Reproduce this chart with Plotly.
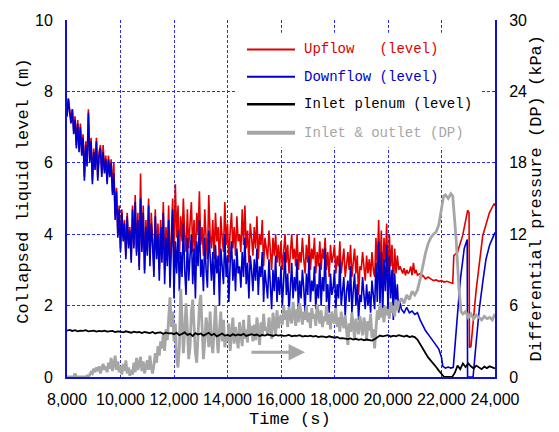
import plotly.graph_objects as go

# ---------------- data ----------------
# noisy part sampled every 50 s from 8000 s to 20450 s
t_noisy = list(range(8000, 20500, 50))

upflow_noisy = [
    7.3, 7.8, 7.5, 7.2, 7.5, 6.9, 7.3, 6.5, 7.2, 6.4,
    7.1, 6.3, 6.8, 5.6, 6.6, 6.0, 7.5, 6.1, 6.7, 5.5,
    6.4, 5.9, 6.7, 5.6, 6.3, 6.5, 5.7, 6.5, 5.8, 6.2,
    5.5, 6.2, 5.7, 6.1, 5.2, 6.0, 4.5, 5.3, 4.0, 4.8,
    3.6, 4.7, 3.9, 4.4, 3.4, 4.6, 3.7, 4.2, 3.3, 4.8,
    3.7, 5.1, 3.5, 4.6, 3.1, 5.7, 3.6, 4.8, 3.0, 4.4,
    3.5, 5.0, 3.3, 4.6, 3.9, 3.0, 4.7, 3.5, 4.3, 3.0,
    4.4, 3.5, 4.9, 3.0, 4.2, 3.4, 4.8, 3.0, 4.0, 5.0,
    3.4, 5.4, 3.9, 4.8, 3.3, 4.5, 3.8, 5.0, 4.0, 3.5,
    4.7, 3.6, 4.3, 4.9, 3.5, 4.4, 3.2, 4.6, 4.0, 5.2,
    3.7, 4.2, 3.4, 4.7, 3.9, 3.3, 5.1, 4.0, 3.6, 4.4,
    3.3, 4.6, 3.8, 4.2, 3.1, 4.5, 3.9, 3.5, 4.9, 3.7,
    4.3, 3.2, 4.1, 4.6, 3.6, 4.2, 3.4, 4.5, 3.8, 4.0,
    3.5, 4.7, 3.7, 4.8, 3.6, 4.1, 3.2, 4.3, 3.9, 3.4,
    4.2, 3.6, 4.5, 3.3, 4.0, 3.7, 4.4, 3.1, 3.9, 3.5,
    3.3, 4.1, 3.6, 3.0, 3.9, 3.4, 4.0, 3.2, 3.7, 3.1,
    3.8, 3.0, 3.5, 4.0, 3.2, 3.7, 2.9, 3.6, 4.0, 3.3,
    3.6, 3.1, 4.0, 3.0, 3.5, 3.2, 3.9, 3.3, 2.9, 3.7,
    3.2, 4.0, 3.0, 3.6, 3.3, 3.9, 2.9, 3.5, 3.1, 3.8,
    3.0, 3.6, 3.3, 3.9, 3.0, 3.5, 2.8, 3.7, 3.2, 3.4,
    3.7, 2.9, 3.4, 3.1, 3.8, 2.9, 3.3, 3.6, 2.8, 3.2,
    3.5, 3.0, 3.7, 2.8, 3.3, 3.6, 2.9, 3.4, 2.3, 3.1,
    3.0, 3.5, 3.1, 2.7, 3.4, 2.9, 3.3, 2.8, 3.5, 3.0,
    2.8, 3.9, 3.0, 4.4, 2.9, 4.1, 2.6, 3.9, 3.2, 4.3,
    2.6, 4.0, 3.1, 3.7, 2.4, 3.6, 2.9, 3.4, 3.0, 3.1,
]
downflow_noisy = [
    7.3, 7.8, 7.4, 7.1, 7.5, 6.8, 7.2, 6.4, 7.1, 6.3,
    7.0, 6.2, 6.7, 5.5, 6.5, 5.9, 7.4, 6.0, 6.6, 5.4,
    6.3, 5.8, 6.6, 5.5, 6.2, 6.4, 5.6, 6.3, 5.7, 6.1,
    5.4, 6.1, 5.6, 6.0, 5.1, 5.7, 4.4, 5.2, 3.9, 4.7,
    3.5, 4.6, 3.8, 4.3, 3.3, 4.5, 3.6, 4.1, 3.2, 4.7,
    3.6, 4.9, 3.4, 4.4, 3.0, 5.0, 3.5, 4.6, 2.9, 4.2,
    3.4, 4.8, 3.1, 4.3, 3.7, 2.8, 4.5, 3.3, 4.0, 2.7,
    4.2, 3.2, 4.6, 2.6, 3.9, 3.1, 4.4, 2.5, 3.6, 4.7,
    2.2, 3.8, 2.9, 4.1, 2.4, 3.5, 2.8, 4.3, 3.0, 2.3,
    3.9, 2.7, 3.4, 4.0, 2.6, 3.6, 2.2, 3.8, 3.1, 4.4,
    2.8, 3.3, 2.4, 3.9, 3.0, 2.5, 4.1, 3.2, 2.7, 3.5,
    2.3, 3.7, 2.9, 3.4, 2.0, 3.6, 3.0, 2.6, 4.0, 2.8,
    3.4, 2.1, 3.2, 3.8, 2.7, 3.3, 2.4, 3.6, 2.9, 3.1,
    2.5, 3.5, 2.8, 3.9, 2.6, 3.2, 2.2, 3.4, 3.0, 2.4,
    3.3, 2.7, 3.6, 2.3, 3.1, 2.8, 3.5, 2.1, 3.0, 2.6,
    2.2, 3.3, 2.6, 1.9, 3.0, 2.4, 3.4, 2.1, 2.8, 2.3,
    3.1, 2.0, 2.7, 3.5, 2.3, 2.9, 1.8, 2.6, 3.2, 2.2,
    2.8, 2.4, 3.3, 1.9, 2.7, 2.2, 3.0, 2.5, 1.8, 2.9,
    2.3, 3.4, 2.1, 2.7, 2.4, 3.1, 1.9, 2.6, 2.2, 3.2,
    2.0, 2.8, 2.4, 3.6, 2.1, 2.6, 1.8, 2.9, 2.3, 2.5,
    3.0, 1.9, 2.6, 2.2, 3.3, 2.0, 2.5, 2.8, 1.7, 2.4,
    2.7, 2.1, 3.1, 1.8, 2.4, 2.9, 2.0, 2.6, 1.6, 2.3,
    2.1, 2.8, 2.3, 1.9, 2.6, 2.0, 2.4, 1.8, 2.7, 2.2,
    1.9, 3.2, 2.1, 3.8, 2.0, 3.5, 1.7, 3.3, 2.4, 3.7,
    1.8, 3.4, 2.2, 3.0, 1.6, 2.9, 2.0, 2.6, 1.8, 2.1,
]
dp_noisy = [
    0.0, 0.0, 0.0, 0.0, 0.0, 0.0, 0.3, 0.0, 0.0, 0.0,
    0.0, 0.0, 0.0, 0.0, 0.0, 0.1, 0.0, 0.2, 0.4, 0.3,
    0.7, 0.4, 0.8, 0.5, 0.9, 0.3, 0.8, 1.1, 0.6, 0.9,
    0.4, 1.2, 0.7, 1.6, 0.5, 1.0, 1.8, 0.6, 1.3, 0.4,
    0.9, 0.2, 1.1, 0.5, 1.4, 0.3, 0.8, 0.1, 0.6, 0.2,
    1.2, 0.4, 1.6, 0.6, 1.1, 1.7, 0.5, 1.3, 0.3, 0.9,
    1.4, 0.6, 1.8, 0.8, 0.3, 1.0, 2.0, 1.2, 2.6, 1.8,
    3.0, 2.4, 3.6, 2.2, 4.0, 3.1, 5.0, 6.7, 4.2, 5.5,
    3.0, 4.5, 1.5, 0.8, 2.5, 7.4, 5.0, 2.0, 3.8, 6.2,
    4.0, 1.5, 2.5, 5.5, 6.5, 4.5, 2.0, 1.2, 3.5, 6.0,
    6.9, 4.5, 1.5, 3.0, 5.0, 4.0, 2.5, 5.5, 3.0, 2.0,
    4.5, 6.0, 3.5, 2.0, 4.0, 5.5, 3.0, 4.8, 2.5, 3.5,
    3.0, 4.5, 2.2, 3.8, 5.0, 2.8, 4.2, 3.3, 2.4, 4.6,
    3.6, 2.6, 4.8, 3.2, 4.0, 2.9, 5.2, 3.5, 4.3, 3.0,
    4.4, 3.1, 5.0, 3.8, 2.7, 4.6, 3.4, 5.3, 3.9, 4.2,
    3.5, 5.0, 4.0, 3.2, 5.4, 4.4, 3.6, 5.6, 4.1, 4.8,
    5.2, 4.4, 6.0, 4.8, 5.6, 4.2, 5.9, 5.0, 4.5, 6.3,
    5.0, 4.3, 5.7, 4.6, 6.2, 5.1, 4.4, 5.5, 4.8, 6.0,
    4.6, 5.4, 4.1, 5.8, 4.9, 5.3, 4.3, 6.1, 5.0, 4.5,
    5.6, 4.2, 5.1, 4.7, 6.0, 4.4, 5.3, 4.0, 5.5, 4.8,
    4.5, 5.8, 4.2, 5.0, 3.8, 5.5, 4.6, 4.1, 5.2, 3.6,
    2.7, 4.5, 3.8, 5.4, 4.0, 3.2, 4.9, 4.3, 3.6, 5.1,
    4.2, 3.5, 5.0, 4.4, 3.1, 4.7, 3.9, 5.3, 3.3, 4.0,
    2.4, 4.5, 5.6, 4.8, 6.2, 5.0, 5.8, 4.6, 6.0, 5.2,
    5.7, 4.9, 6.3, 5.4, 6.0, 5.1, 6.5, 5.6, 6.2, 6.4,
]

# late part (explicit sample times)
upflow_tail_t = [20500, 20550, 20600, 20650, 20700, 20750, 20800, 20850, 20900, 20950,
                 21000, 21050, 21100, 21200, 21250, 21300, 21400, 21500, 21600, 21700,
                 21800, 21900, 22000, 22100, 22200, 22300, 22420, 22460, 22600, 22790,
                 22915, 22980, 23030, 23045, 23100, 23290, 23540, 23790, 23970, 24000]
upflow_tail = [3.0, 2.9, 3.05, 2.85, 3.0, 2.9, 2.95, 3.1, 2.85, 3.2,
               2.9, 3.0, 2.85, 2.9, 2.8, 2.85, 2.75, 2.8, 2.75, 2.7,
               2.72, 2.68, 2.7, 2.66, 2.68, 2.65, 2.62, 3.4, 3.5, 3.96,
               4.5, 4.67, 4.6, 0.82, 0.85, 2.4, 3.95, 4.6, 4.86, 4.8]

downflow_tail_t = [20500, 20600, 20700, 20800, 20900, 21000, 21100, 21200, 21300, 21400,
                   21500, 21600, 21700, 21800, 21900, 22000, 22050, 22150, 22250, 22350,
                   22440, 22550, 22700, 22850, 22960, 22975, 23180, 23300, 23413, 23550,
                   23663, 23800, 23972, 24000]
downflow_tail = [1.9, 1.8, 1.95, 1.8, 1.85, 1.75, 1.8, 1.6, 1.45, 1.3,
                 1.2, 1.1, 1.0, 0.9, 0.78, 0.55, 0.3, 0.25, 0.28, 0.25,
                 0.27, 1.3, 2.7, 3.6, 3.85, 0.0, 0.0, 1.0, 1.9, 2.7,
                 3.3, 3.7, 4.03, 4.05]

dp_tail_t = [20500, 20600, 20700, 20800, 20900, 21000, 21100, 21200, 21300, 21400,
             21500, 21600, 21700, 21800, 21900, 22000, 22080, 22150, 22250, 22350,
             22420, 22480, 22550, 22650, 22730, 22800, 22900, 23000, 23100, 23200,
             23300, 23400, 23500, 23600, 23700, 23800, 23900, 24000]
dp_tail = [6.6, 6.2, 6.9, 6.5, 7.2, 6.9, 7.3, 8.2, 9.4, 10.4,
           11.2, 11.7, 12.0, 12.2, 12.8, 14.2, 15.2, 15.3, 15.0, 15.4,
           15.2, 13.5, 11.5, 7.5, 5.5, 5.3, 5.5, 5.0, 5.3, 4.9,
           5.2, 5.0, 4.8, 5.1, 4.9, 5.0, 4.8, 5.3]

# inlet plenum level, every 100 s from 8000 s to 24000 s
t_plenum = list(range(8000, 24001, 100))
plenum = [
    1.30, 1.32, 1.29, 1.31, 1.28, 1.30, 1.29, 1.31, 1.28, 1.29,
    1.30, 1.27, 1.29, 1.28, 1.30, 1.27, 1.28, 1.29, 1.26, 1.28,
    1.27, 1.25, 1.28, 1.26, 1.24, 1.27, 1.25, 1.26, 1.23, 1.26,
    1.25, 1.23, 1.26, 1.22, 1.24, 1.25, 1.21, 1.24, 1.22, 1.23,
    1.20, 1.24, 1.17, 1.22, 1.25, 1.18, 1.21, 1.15, 1.23, 1.19,
    1.22, 1.16, 1.20, 1.24, 1.17, 1.21, 1.14, 1.19, 1.22, 1.16,
    1.18, 1.15, 1.20, 1.16, 1.19, 1.17, 1.21, 1.15, 1.18, 1.20,
    1.17, 1.19, 1.15, 1.18, 1.16, 1.19, 1.17, 1.15, 1.18, 1.16,
    1.17, 1.15, 1.16, 1.18, 1.14, 1.16, 1.15, 1.17, 1.13, 1.15,
    1.14, 1.16, 1.13, 1.15, 1.12, 1.14, 1.13, 1.11, 1.14, 1.12,
    1.10, 1.12, 1.08, 1.09, 1.07, 1.06, 1.08, 1.05, 1.07, 1.04,
    1.06, 1.03, 1.05, 1.04, 1.02, 1.06, 1.12, 1.16, 1.14, 1.15,
    1.17, 1.13, 1.16, 1.14, 1.17, 1.15, 1.13, 1.16, 1.12, 1.14,
    1.12, 1.05, 0.92, 0.80, 0.66, 0.55, 0.46, 0.38, 0.28, 0.18,
    0.08, 0.00, 0.00, 0.00, 0.00, 0.12, 0.32, 0.22, 0.38, 0.28,
    0.38, 0.30, 0.24, 0.32, 0.27, 0.22, 0.29, 0.25, 0.30, 0.26,
    0.24,
]

x_ticks = [8000, 10000, 12000, 14000, 16000, 18000, 20000, 22000, 24000]
x_tick_labels = ["8,000", "10,000", "12,000", "14,000", "16,000", "18,000", "20,000", "22,000", "24,000"]
level_ticks = [0, 2, 4, 6, 8, 10]
dp_ticks = [0, 6, 12, 18, 24, 30]

legend_names = ["Upflow\u00a0\u00a0\u00a0(level)", "Downflow (level)", "Inlet plenum (level)", "Inlet & outlet (DP)"]

# ---------------- styling ----------------
RED = "#e00000"
BLUE = "#0000cc"
BLACK = "#000000"
GRAY = "#a6a6a6"
GRID = "#2b2be0"
AXIS = "#1010d0"
MONO = "Liberation Mono, DejaVu Sans Mono, monospace"
SANS = "Liberation Sans, Arial, sans-serif"

fig = go.Figure()
fig.add_trace(go.Scatter(x=t_noisy + upflow_tail_t, y=upflow_noisy + upflow_tail,
                         mode="lines", line=dict(color=RED, width=1.6), name=legend_names[0],
                         xaxis="x", yaxis="y"))
fig.add_trace(go.Scatter(x=t_noisy + downflow_tail_t, y=downflow_noisy + downflow_tail,
                         mode="lines", line=dict(color=BLUE, width=1.6), name=legend_names[1],
                         xaxis="x", yaxis="y"))
fig.add_trace(go.Scatter(x=t_noisy + dp_tail_t, y=dp_noisy + dp_tail,
                         mode="lines", line=dict(color=GRAY, width=2.8), name=legend_names[3],
                         xaxis="x", yaxis="y2"))
fig.add_trace(go.Scatter(x=t_plenum, y=plenum,
                         mode="lines", line=dict(color=BLACK, width=1.8), name=legend_names[2],
                         xaxis="x", yaxis="y3"))

fig.update_layout(
    width=559, height=432,
    margin=dict(l=67, r=64, t=13, b=55),
    paper_bgcolor="white", plot_bgcolor="white",
    showlegend=False,
    font=dict(family=SANS, size=16, color="black"),
    xaxis=dict(range=[8000, 24000], tickvals=x_ticks, ticktext=x_tick_labels,
               showgrid=True, gridcolor=GRID, griddash="3px,2px", gridwidth=1.2,
               showline=True, linecolor=AXIS, linewidth=2, zeroline=False,
               ticks="", ticklabelstandoff=7, tickfont=dict(family=SANS, size=16)),
    yaxis=dict(range=[0, 10], tickvals=level_ticks,
               showgrid=True, gridcolor=GRID, griddash="3px,2px", gridwidth=1.2,
               showline=True, linecolor=AXIS, linewidth=2, zeroline=False,
               ticks="", ticklabelstandoff=9, tickfont=dict(family=SANS, size=16)),
    yaxis2=dict(range=[0, 30], tickvals=dp_ticks, overlaying="y", side="right",
                showgrid=False, showline=True, linecolor=AXIS, linewidth=2, zeroline=False,
                ticks="", ticklabelstandoff=9, tickfont=dict(family=SANS, size=16)),
    yaxis3=dict(range=[0, 10], overlaying="y", visible=False),
)

# axis titles
fig.add_annotation(text="Collapsed liquid level (m)", xref="paper", yref="paper",
                   x=-0.1005, y=0.522, textangle=-90, showarrow=False,
                   xanchor="center", yanchor="middle", font=dict(family=MONO, size=17))
fig.add_annotation(text="Differential pressure (DP) (kPa)", xref="paper", yref="paper",
                   x=1.098, y=0.50, textangle=-90, showarrow=False,
                   xanchor="center", yanchor="middle", font=dict(family=MONO, size=17))
fig.add_annotation(text="Time (s)", xref="paper", yref="paper",
                   x=0.521, y=-0.118, showarrow=False,
                   xanchor="center", yanchor="middle", font=dict(family=MONO, size=17))

# arrow showing that the grey curve belongs to the right axis
fig.add_annotation(x=16900, y=0.69, ax=14840, ay=0.69, xref="x", yref="y", axref="x", ayref="y",
                   text="", showarrow=True, arrowhead=2, arrowsize=1.1, arrowwidth=3,
                   arrowcolor=GRAY, standoff=0)

# custom legend
fig.add_shape(type="rect", xref="paper", yref="paper", x0=0.397, x1=0.967, y0=0.643, y1=0.964,
              fillcolor="white", line=dict(width=0), layer="above")
rows = [0.9176, 0.8407, 0.7637, 0.684]
colors = [RED, BLUE, BLACK, GRAY]
widths = [2, 2, 2.5, 4]
for name, yy, c, w in zip(legend_names, rows, colors, widths):
    fig.add_shape(type="line", xref="paper", yref="paper", x0=0.4206, x1=0.5327, y0=yy, y1=yy,
                  line=dict(color=c, width=w), layer="above")
    fig.add_annotation(text=name, xref="paper", yref="paper", x=0.549, y=yy, showarrow=False,
                       xanchor="left", yanchor="middle", font=dict(family=MONO, size=14, color=c))

# remove the browser's default 8 px body margin so the figure fills the window
fig.write_html("out.html", config={"displayModeBar": False},
               post_script="document.body.style.margin='0px';")
